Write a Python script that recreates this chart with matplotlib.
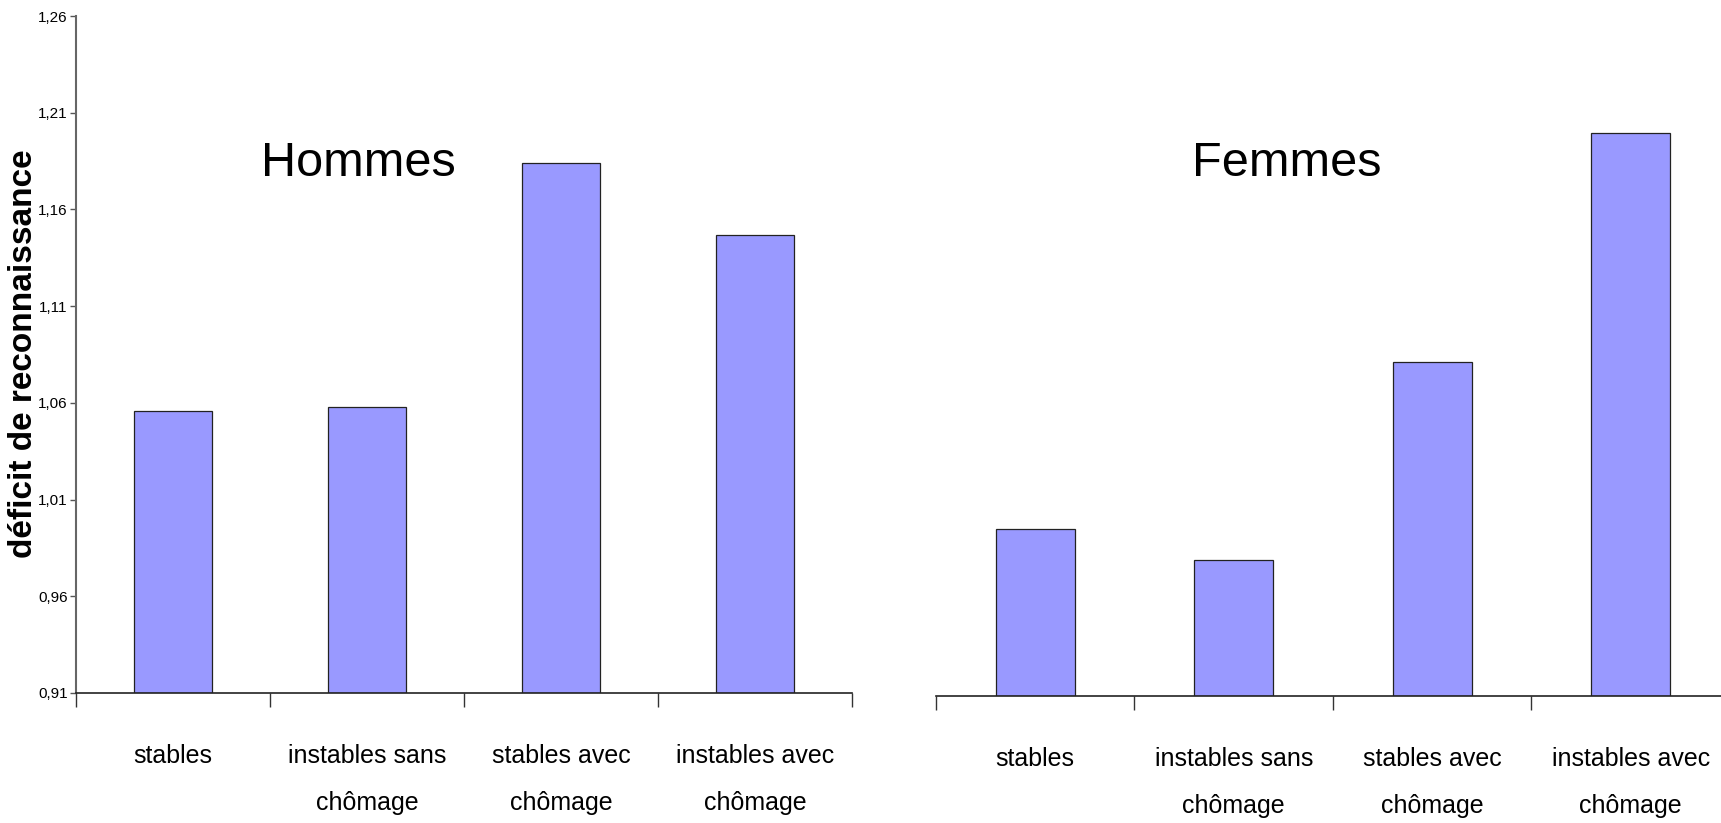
import matplotlib
matplotlib.use('Agg')
import matplotlib.pyplot as plt
import numpy as np
from matplotlib import font_manager

categories = ['stables', 'instables sans\nchômage', 'stables avec\nchômage',
              'instables avec\nchômage']
hommes = [1.056, 1.058, 1.184, 1.147]
femmes = [0.996, 0.980, 1.082, 1.200]
yticks = [0.91, 0.96, 1.01, 1.06, 1.11, 1.16, 1.21, 1.26]
ytick_labels = ['0,91', '0,96', '1,01', '1,06', '1,11', '1,16', '1,21', '1,26']

names = {f.name for f in font_manager.fontManager.ttflist}
narrow = 'Liberation Sans Narrow' if 'Liberation Sans Narrow' in names else 'Liberation Sans'
narrow_size = 22 if narrow == 'Liberation Sans Narrow' else 18
tick_size = 13 if narrow == 'Liberation Sans Narrow' else 11

bar_color = '#9999ff'
W, H = 1721, 823
fig = plt.figure(figsize=(W / 100, H / 100), dpi=100)

# axes placed in pixel positions
ax1 = fig.add_axes([76 / W, (H - 693) / H, 776 / W, 677 / H])
ax2 = fig.add_axes([936 / W, (H - 696) / H, 794 / W, 679 / H])

x = np.arange(len(categories))
for ax, vals in [(ax1, hommes), (ax2, femmes)]:
    ax.bar(x, np.array(vals) - 0.91, bottom=0.91, width=0.4, color=bar_color,
           edgecolor='#222222', linewidth=0.9, zorder=2)
    ax.set_xlim(-0.5, 3.5)
    ax.set_ylim(0.91, 1.26)
    ax.set_xticks(x)
    ax.set_xticklabels(categories, fontsize=narrow_size, family=narrow,
                       linespacing=2.2)
    ax.set_xticks(np.arange(-0.5, 4.0, 1.0), minor=True)
    ax.tick_params(axis='x', which='major', length=0, pad=37)
    ax.tick_params(axis='x', which='minor', length=10, width=1.0,
                   color='#333333', direction='out')
    ax.spines['top'].set_visible(False)
    ax.spines['right'].set_visible(False)
    ax.spines['bottom'].set_color('#222222')
    ax.spines['bottom'].set_linewidth(1.2)

ax1.set_yticks(yticks)
ax1.set_yticklabels(ytick_labels, fontsize=tick_size, family=narrow)
ax1.tick_params(axis='y', length=4, width=1.0, pad=2, color='#555555')
ax1.spines['left'].set_color('#666666')
ax1.spines['left'].set_linewidth(1.5)

ax2.spines['left'].set_visible(False)
ax2.set_yticks([])

ax1.text((358 - 76) / 776, (693 - 164) / 677, 'Hommes', transform=ax1.transAxes,
         fontsize=35, family='Liberation Sans', ha='center', va='center')
ax2.text((1287 - 936) / 794, (696 - 164) / 679, 'Femmes', transform=ax2.transAxes,
         fontsize=35, family='Liberation Sans', ha='center', va='center')

fig.text(24 / W, 1 - 354 / H, 'déficit de reconnaissance', rotation=90,
         fontsize=24, fontweight='bold', family='Liberation Sans',
         ha='center', va='center')

fig.savefig('out.png', dpi=100, facecolor='white')
